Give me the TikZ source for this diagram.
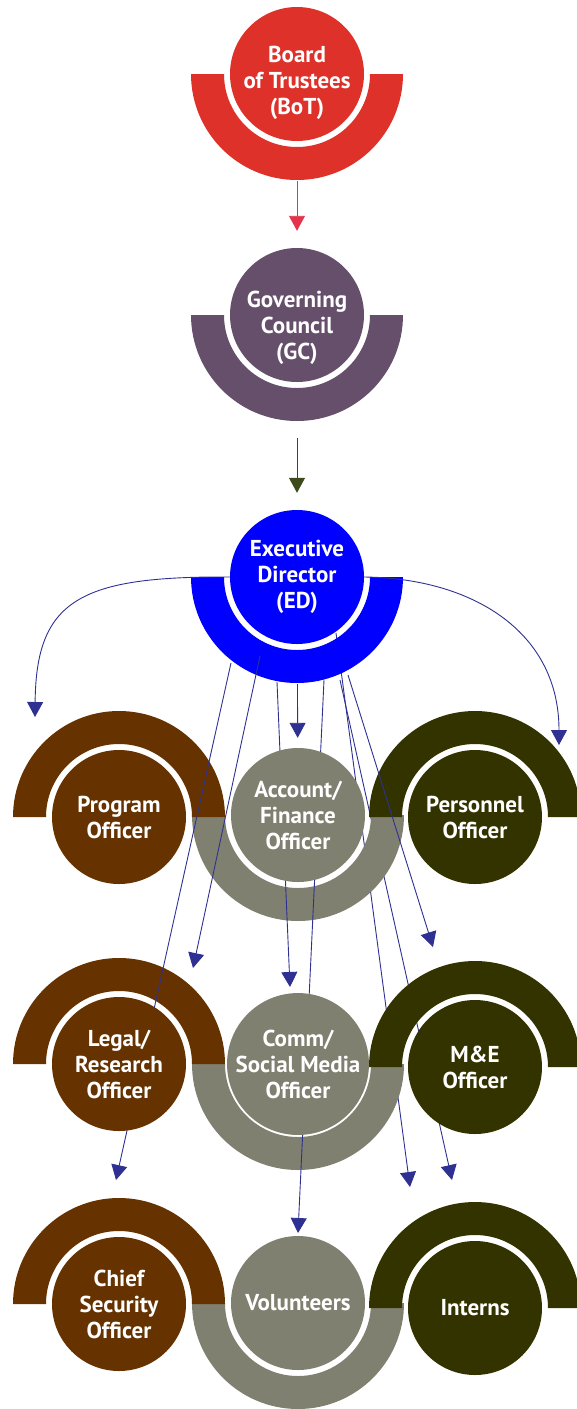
\documentclass[tikz,border=0pt]{standalone}
\usepackage{fontspec}
\setmainfont{PT Sans}
\usetikzlibrary{arrows.meta}
\pgfdeclarelayer{back}
\pgfdeclarelayer{front}
\pgfsetlayers{back,main,front}

\definecolor{botred}{RGB}{221,49,41}
\definecolor{gcpurple}{RGB}{101,79,106}
\definecolor{edblue}{RGB}{0,0,255}
\definecolor{brownc}{RGB}{102,51,0}
\definecolor{grayc}{RGB}{128,128,112}
\definecolor{olivec}{RGB}{51,51,0}
\definecolor{linkblue}{RGB}{46,49,146}
\definecolor{arrowred}{RGB}{228,52,76}
\definecolor{arrowgreen}{RGB}{61,74,28}

\begin{document}
\begin{tikzpicture}[
    x=1pt, y=-1pt,
    unittext/.style={align=center, text=white, font=\fontsize{23}{26}\selectfont\bfseries},
    unit/.style={circle, minimum size=134pt, inner sep=0pt, unittext},
    tip/.style={-{Triangle[width=16pt,length=15pt]}},
    link/.style={tip, line width=0.9pt, draw=linkblue},
    redarrow/.style={tip, line width=0.9pt, draw=arrowred},
    greenarrow/.style={tip, line width=1pt, draw=arrowgreen}
]
\useasboundingbox (0,0) rectangle (576,1409);

% Circles
\begin{pgfonlayer}{front}
\node[unit, fill=botred, label={[unittext,yshift=-9pt]center:{Board\\of Trustees\\(BoT)}}] (bot) at (297,74) {};
\node[unit, fill=gcpurple, label={[unittext,yshift=-13pt]center:{Governing\\Council\\(GC)}}] (gc) at (297,315) {};
\node[unit, fill=edblue] (ed) at (297,577) {Executive\\Director\\(ED)};

\node[unit, fill=brownc] (prog) at (119,817) {Program\\Officer};
\node[unit, fill=grayc] (acct) at (298,815) {Account/\\Finance\\Officer};
\node[unit, fill=olivec] (pers) at (475,817) {Personnel\\Officer};

\node[unit, fill=brownc] (legal) at (119,1064) {Legal/\\Research\\Officer};
\node[unit, fill=grayc] (comm) at (298,1064) {Comm/\\Social Media\\Officer};
\node[unit, fill=olivec] (me) at (475,1067) {M\&E\\Officer};

\node[unit, fill=brownc] (chief) at (119,1304) {Chief\\Security\\Officer};
\node[unit, fill=grayc] (vol) at (298,1303) {Volunteers};
\node[unit, fill=olivec] (int) at (475,1308) {Interns};
\end{pgfonlayer}

% Rings below
\fill[botred] ([xshift=-106pt]bot.center) arc[start angle=180, end angle=360, radius=106pt] -- ++(-33,0) arc[start angle=360, end angle=180, radius=73pt] -- cycle;
\fill[gcpurple] ([xshift=-106pt]gc.center) arc[start angle=180, end angle=360, radius=106pt] -- ++(-33,0) arc[start angle=360, end angle=180, radius=73pt] -- cycle;
\fill[edblue] ([xshift=-106pt]ed.center) arc[start angle=180, end angle=360, radius=106pt] -- ++(-33,0) arc[start angle=360, end angle=180, radius=73pt] -- cycle;
\fill[grayc] ([xshift=-106pt]acct.center) arc[start angle=180, end angle=360, radius=106pt] -- ++(-33,0) arc[start angle=360, end angle=180, radius=73pt] -- cycle;
\fill[grayc] ([xshift=-106pt]comm.center) arc[start angle=180, end angle=360, radius=106pt] -- ++(-33,0) arc[start angle=360, end angle=180, radius=73pt] -- cycle;
\fill[grayc] ([xshift=-106pt]vol.center) arc[start angle=180, end angle=360, radius=106pt] -- ++(-33,0) arc[start angle=360, end angle=180, radius=73pt] -- cycle;

% Rings above
\fill[brownc] ([xshift=-106pt]prog.center) arc[start angle=180, end angle=0, radius=106pt] -- ++(-33,0) arc[start angle=0, end angle=180, radius=73pt] -- cycle;
\fill[olivec] ([xshift=-106pt]pers.center) arc[start angle=180, end angle=0, radius=106pt] -- ++(-33,0) arc[start angle=0, end angle=180, radius=73pt] -- cycle;
\fill[brownc] ([xshift=-106pt]legal.center) arc[start angle=180, end angle=0, radius=106pt] -- ++(-33,0) arc[start angle=0, end angle=180, radius=73pt] -- cycle;
\fill[olivec] ([xshift=-106pt]me.center) arc[start angle=180, end angle=0, radius=106pt] -- ++(-33,0) arc[start angle=0, end angle=180, radius=73pt] -- cycle;
\fill[brownc] ([xshift=-106pt]chief.center) arc[start angle=180, end angle=0, radius=106pt] -- ++(-33,0) arc[start angle=0, end angle=180, radius=73pt] -- cycle;
\fill[olivec] ([xshift=-106pt]int.center) arc[start angle=180, end angle=0, radius=106pt] -- ++(-33,0) arc[start angle=0, end angle=180, radius=73pt] -- cycle;

% Connector ends
\coordinate (edChief) at (231,663);  \coordinate (tipChief) at (116,1180);
\coordinate (edLegal) at (260,656);  \coordinate (tipLegal) at (193,968);
\coordinate (edComm) at (277,682);   \coordinate (tipComm) at (290,987);
\coordinate (edVol) at (324,680);    \coordinate (tipVol) at (298,1233);
\coordinate (edME) at (348,675);     \coordinate (tipME) at (433,947);
\coordinate (edInt1) at (336,633);   \coordinate (tipInt1) at (410,1187);
\coordinate (edInt2) at (340,680);   \coordinate (tipInt2) at (452,1180);
\coordinate (tipProg) at (35,717);
\coordinate (tipPers) at (559,745);

% Top chain
\draw[redarrow, shorten <=40pt, shorten >=17pt] (bot) -- (gc);
\draw[greenarrow, shorten <=56pt, shorten >=17pt] (gc) -- (ed);

% Links from ED
\draw[link] (ed.west) .. controls (80,576) and (36,600) .. (tipProg);
\draw[link] (ed.east) .. controls (470,578) and (559,630) .. (tipPers);
\draw[link, shorten <=40pt, shorten >=10pt] (ed) -- (acct);
\draw[link] (edChief) -- (tipChief);
\draw[link] (edLegal) -- (tipLegal);
\draw[link] (edComm) -- (tipComm);
\draw[link] (edVol) -- (tipVol);
\draw[link] (edME) -- (tipME);

% Links behind the rings
\begin{pgfonlayer}{back}
\draw[link] (edInt1) -- (tipInt1);
\draw[link] (edInt2) -- (tipInt2);
\end{pgfonlayer}

\end{tikzpicture}
\end{document}
